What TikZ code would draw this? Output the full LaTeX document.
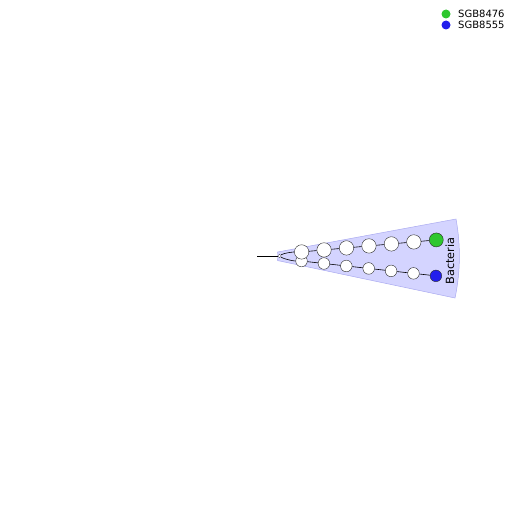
\documentclass[tikz,border=0pt]{standalone}
\usepackage{fontspec}
\setmainfont{DejaVu Sans}
\usetikzlibrary{calc}
\definecolor{wedgefill}{RGB}{212,212,255}
\definecolor{wedgeedge}{RGB}{170,170,240}
\definecolor{leafgreen}{RGB}{46,199,46}
\definecolor{leafblue}{RGB}{34,30,236}
\definecolor{nodeedge}{RGB}{40,40,40}
\tikzset{
  wn/.style={circle, draw=nodeedge, line width=0.4pt, fill=white, inner sep=0pt, minimum size=#1},
  gn/.style={circle, draw=nodeedge, line width=0.4pt, fill=leafgreen, inner sep=0pt, minimum size=14pt},
  bn/.style={circle, draw=nodeedge, line width=0.4pt, fill=leafblue, inner sep=0pt, minimum size=11.6pt},
  rootn/.style={circle, draw=nodeedge, line width=0.3pt, fill=white, inner sep=0pt, minimum size=3.5pt},
  edge/.style={draw=black, line width=0.6pt},
  legdot/.style={circle, inner sep=0pt, minimum size=9pt},
  legtxt/.style={anchor=west, inner sep=0pt, font=\fontsize{10}{11}\selectfont}
}
\begin{document}
\begin{tikzpicture}[x=1pt,y=-1pt]
\useasboundingbox (0,0) rectangle (513,513);
\begin{scope}[shift={(256,256)}]
  % clade wedge
  \fill[wedgefill, draw=wedgeedge, line width=0.5pt]
    (-10.48:22) -- (-10.48:203.4) arc[start angle=-10.48, end angle=11.92, radius=203.4]
    -- (11.92:22) arc[start angle=11.92, end angle=-10.48, radius=22] -- cycle;
  % root
  \coordinate (base) at (0:1);
  \node[rootn] (root) at (0:23.5) {};
  % lower chain (drawn first)
  \foreach \i [evaluate=\i as \r using 45.8+22.53*(\i-1)] in {1,...,6} {
    \node[wn=11.6pt] (l\i) at (6.3:\r) {};
  }
  \node[bn] (l7) at (6.3:181) {};
  % upper chain
  \foreach \i [evaluate=\i as \r using 45.8+22.53*(\i-1)] in {1,...,6} {
    \node[wn=14.4pt] (u\i) at (-5.1:\r) {};
  }
  \node[gn] (u7) at (-5.1:181) {};
  % label
  \node[rotate=90, font=\fontsize{11.3}{12}\selectfont, inner sep=0pt] (lab) at (193.8,5) {Bacteria};
\end{scope}
% edges
\draw[edge] (base) -- (root);
\draw[edge] (root) .. controls +(4,-3) and +(-8,0) .. (u1);
\draw[edge] (root) .. controls +(4,3) and +(-8,0) .. (l1);
\foreach \a/\b in {1/2,2/3,3/4,4/5,5/6,6/7} {
  \draw[edge] (u\a) -- (u\b);
  \draw[edge] (l\a) -- (l\b);
}
% legend
\node[legdot, fill=leafgreen] (lg1) at (446,14) {};
\node[legdot, fill=leafblue] (lg2) at (446,25) {};
\node[legtxt] (lt1) at (458,14) {SGB8476};
\node[legtxt] (lt2) at (458,25) {SGB8555};
\end{tikzpicture}
\end{document}
